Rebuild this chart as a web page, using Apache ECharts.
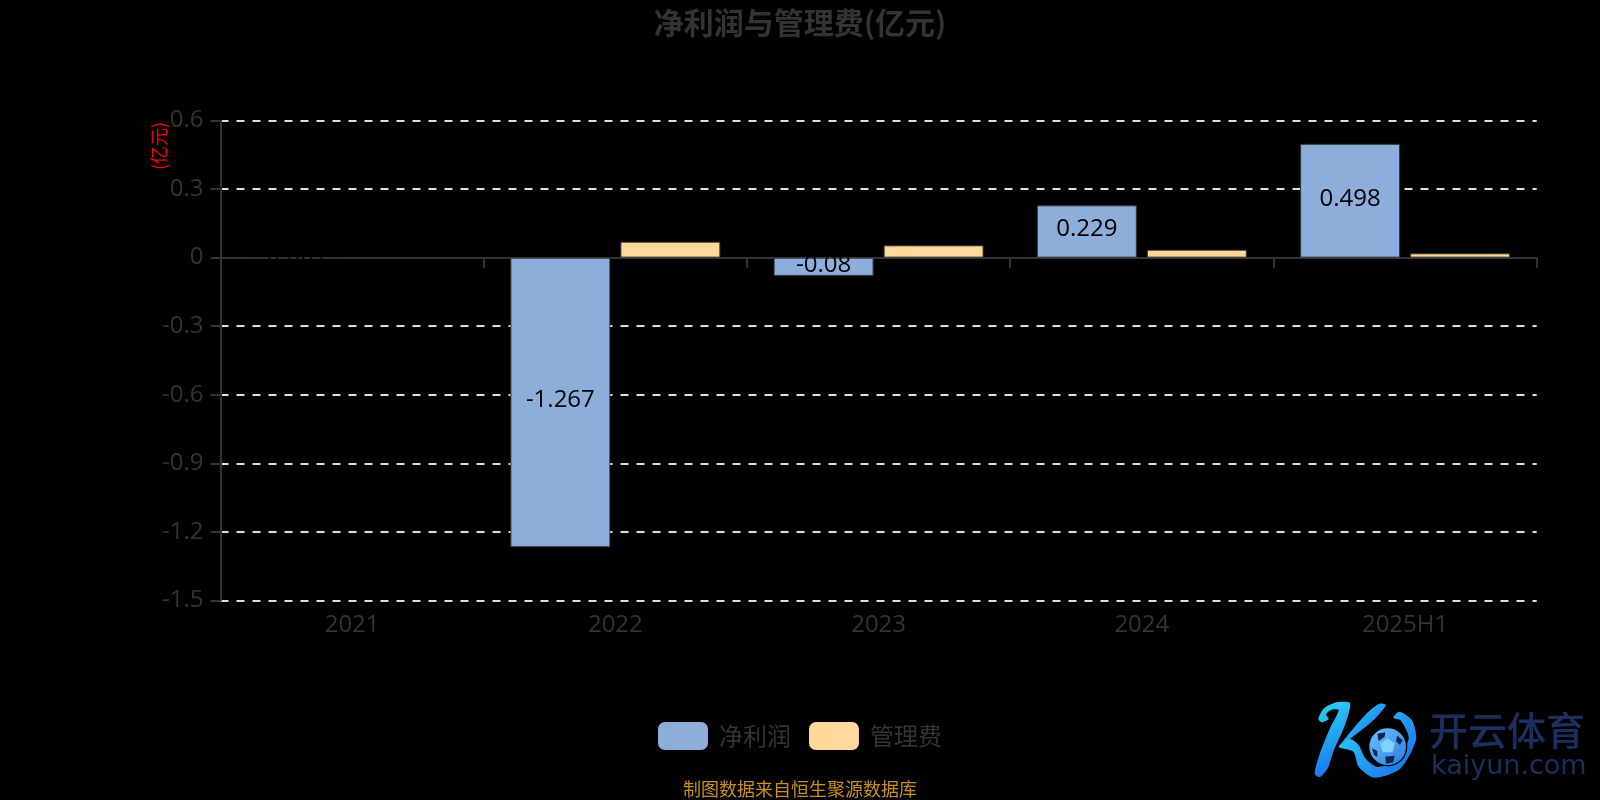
<!DOCTYPE html>
<html>
<head>
<meta charset="utf-8">
<title>净利润与管理费</title>
<script src="https://cdn.jsdelivr.net/npm/echarts@6/dist/echarts.min.js"></script>
<style>
  html, body { margin: 0; padding: 0; background: #000; }
  #chart { width: 1600px; height: 800px; }
</style>
</head>
<body>
<div id="chart"></div>
<script>
const categories = ['2021', '2022', '2023', '2024', '2025H1']
const netProfit = [0.001, -1.267, -0.08, 0.229, 0.498]
const adminFee = [null, 0.07, 0.054, 0.035, 0.019]

const chartTitle = '净利润与管理费(亿元)'
const sourceNote = '制图数据来自恒生聚源数据库'
const unitName = '(亿元)'

const fontFamily = '"Open Sans", "Noto Sans CJK SC", sans-serif'
const cjkFont = '"Noto Sans CJK SC", sans-serif'
const blue = '#8dadda'
const orange = '#ffd89b'
const grey = '#333'

// watermark logo, points are in a 3x local space (see the group scale below)
const logoGradient = new echarts.graphic.LinearGradient(0, 0, 1, 1, [
  { offset: 0, color: '#2fd6f5' },
  { offset: 1, color: '#1668f0' },
])
const ballGradient = new echarts.graphic.LinearGradient(0, 0, 1, 1, [
  { offset: 0, color: '#6cc8ff' },
  { offset: 1, color: '#2a78dc' },
])
const logoShape = (points, fill, smooth = 0.25) => ({
  type: 'polygon',
  shape: { points, smooth },
  style: { fill },
})
const logo = {
  type: 'group',
  x: 1300,
  y: 695,
  scaleX: 1 / 3,
  scaleY: 1 / 3,
  children: [
    logoShape([[55, 72], [72, 40], [110, 22], [150, 25], [135, 90], [100, 170], [84, 218], [60, 246], [44, 236], [60, 175], [90, 100], [116, 46], [95, 44], [78, 58], [86, 72], [66, 82]], logoGradient),
    logoShape([[258, 30], [238, 26], [200, 55], [116, 156], [150, 132], [220, 76]], logoGradient),
    logoShape([[116, 156], [160, 170], [176, 215], [222, 248], [300, 222], [348, 135], [336, 76], [298, 50], [280, 68], [302, 76], [326, 130], [292, 196], [232, 216], [196, 190], [176, 150], [150, 132]], logoGradient),
    {
      type: 'circle',
      shape: { cx: 263, cy: 155, r: 57 },
      style: { fill: ballGradient, stroke: '#000', lineWidth: 4 },
    },
    logoShape([[262, 130], [285, 145], [277, 172], [248, 172], [240, 145]], '#7fcfff', 0),
    logoShape([[232, 116], [256, 112], [254, 125], [236, 138]], '#08264f', 0),
    logoShape([[292, 122], [308, 136], [300, 150], [288, 138]], '#08264f', 0),
    logoShape([[256, 185], [284, 182], [280, 202], [258, 206]], '#08264f', 0),
    logoShape([[216, 160], [232, 168], [232, 186], [222, 180]], '#08264f', 0),
  ],
}

const chart = echarts.init(document.getElementById('chart'), null, { renderer: 'canvas' })

chart.setOption({
  animation: false,
  backgroundColor: '#000',
  title: [
    {
      text: chartTitle,
      left: 'center',
      top: 3,
      textStyle: { color: grey, fontSize: 30, fontWeight: 'bold', fontFamily: cjkFont },
    },
    {
      text: sourceNote,
      left: 'center',
      top: 775,
      textStyle: { color: '#c98f1f', fontSize: 18, fontWeight: 'normal', fontFamily: cjkFont },
    },
  ],
  legend: {
    data: ['净利润', '管理费'],
    left: 'center',
    top: 717,
    itemWidth: 50,
    itemHeight: 28,
    itemGap: 18,
    itemStyle: { borderWidth: 0 },
    textStyle: { color: grey, fontSize: 24, fontFamily: cjkFont, padding: [0, 0, 4, 6] },
  },
  grid: { left: 220.5, right: 63.3, top: 120.5, bottom: 199.5, outerBoundsMode: 'none' },
  xAxis: {
    type: 'category',
    data: categories,
    axisLine: { lineStyle: { color: grey, width: 2 } },
    axisTick: { show: true, length: 10, lineStyle: { color: grey, width: 2 } },
    axisLabel: { color: grey, fontSize: 24, fontFamily, margin: 13 },
  },
  yAxis: {
    type: 'value',
    min: -1.5,
    max: 0.6,
    interval: 0.3,
    axisLine: { show: true, lineStyle: { color: grey, width: 2 } },
    axisTick: { show: true, length: 10, lineStyle: { color: grey, width: 2 } },
    axisLabel: { color: grey, fontSize: 24, fontFamily, margin: 17, padding: [0, 0, 3, 0] },
    splitLine: { lineStyle: { color: '#ddd', width: 2, type: [8, 8] } },
  },
  series: [
    {
      name: '净利润',
      type: 'bar',
      data: netProfit,
      barWidth: 100,
      barGap: '10%',
      itemStyle: { color: blue, borderColor: grey, borderWidth: 1 },
      label: { show: true, position: 'inside', offset: [0, -2], color: '#000', fontSize: 24, fontFamily },
    },
    {
      name: '管理费',
      type: 'bar',
      data: adminFee,
      barWidth: 100,
      itemStyle: { color: orange, borderColor: grey, borderWidth: 1 },
    },
  ],
  graphic: [
    {
      type: 'text',
      x: 159,
      y: 146,
      rotation: Math.PI / 2,
      style: { text: unitName, fill: '#f00', font: '18px ' + cjkFont, align: 'center', verticalAlign: 'middle' },
    },
    logo,
    {
      type: 'text',
      x: 1429,
      y: 730,
      style: { text: '开云体育', fill: '#1b2f5f', font: '500 39px ' + cjkFont, verticalAlign: 'middle' },
    },
    {
      type: 'text',
      x: 1431,
      y: 767,
      style: { text: 'kaiyun.com', fill: '#1b2f5f', font: '27px "DejaVu Sans", sans-serif', verticalAlign: 'middle' },
    },
  ],
})
</script>
</body>
</html>
